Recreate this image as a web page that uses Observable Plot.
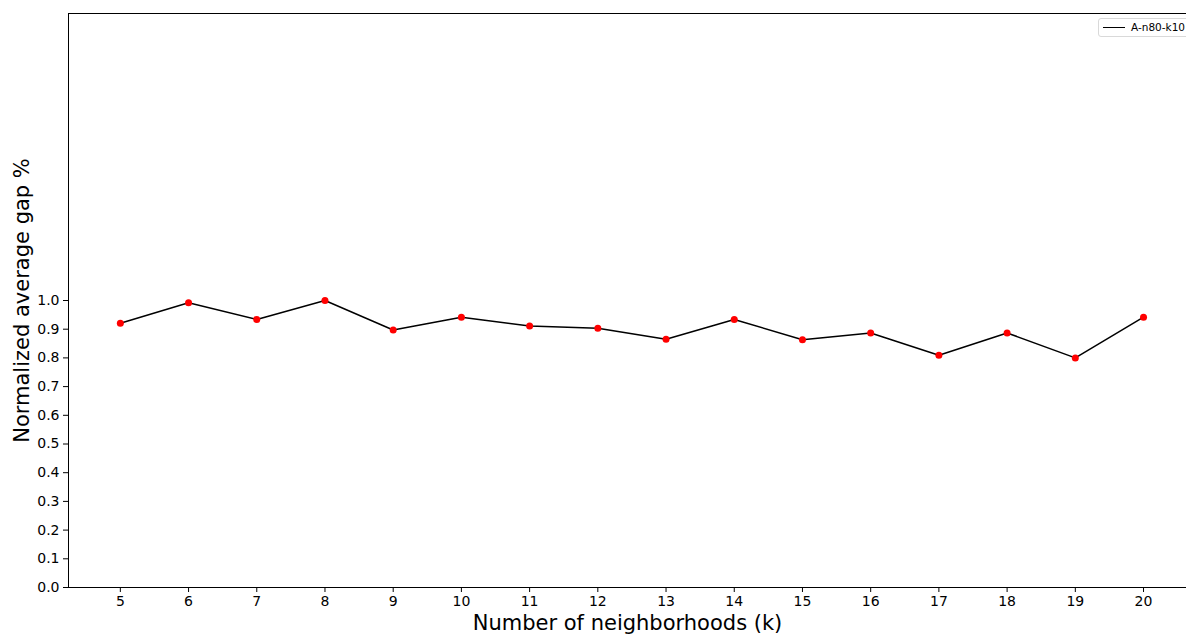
<!DOCTYPE html>
<html>
<head>
<meta charset="utf-8">
<script src="https://cdn.jsdelivr.net/npm/d3@7"></script>
<script src="https://cdn.jsdelivr.net/npm/@observablehq/plot@0.6"></script>
<style>
  html, body { margin: 0; padding: 0; background: #fff; }
  #wrap { position: relative; width: 1186px; height: 635px; font-family: "DejaVu Sans", sans-serif; }
  #legend { position: absolute; left: 1098px; top: 18px; width: 92px; height: 19px; border: 1px solid #d9d9d9; border-radius: 3px; background: #fff; box-sizing: border-box; font-size: 10.5px; color: #000; }
  #legend .sw { position: absolute; left: 4px; top: 8px; width: 22px; height: 0; border-top: 1.5px solid #000; }
  #legend .lb { position: absolute; left: 32px; top: 2px; white-space: nowrap; }
</style>
</head>
<body>
<div id="wrap"></div>
<script>
const ks = [5, 6, 7, 8, 9, 10, 11, 12, 13, 14, 15, 16, 17, 18, 19, 20];
const gaps = [0.921, 0.992, 0.934, 1.0, 0.897, 0.942, 0.911, 0.903, 0.865, 0.934, 0.863, 0.887, 0.809, 0.887, 0.800, 0.942];
const yTicks = [0.0, 0.1, 0.2, 0.3, 0.4, 0.5, 0.6, 0.7, 0.8, 0.9, 1.0];
const seriesName = "A-n80-k10";
const xLabel = "Number of neighborhoods (k)";
const yLabel = "Normalized average gap %";

const data = ks.map((k, i) => ({k, gap: gaps[i]}));

const chart = Plot.plot({
  width: 1186,
  height: 635,
  marginLeft: 68,
  marginRight: 0,
  marginTop: 13,
  marginBottom: 48,
  style: {fontFamily: "DejaVu Sans, sans-serif", fontSize: "14px", color: "#000", background: "#fff"},
  x: {domain: [4.24, 20.63]},
  y: {domain: [0, 2.0]},
  marks: [
    Plot.axisX({ticks: ks, tickSize: 5, tickPadding: 4, tickFormat: d => String(d), label: null, fontSize: 14}),
    Plot.axisY({ticks: yTicks, tickSize: 5, tickPadding: 4, tickFormat: d => d.toFixed(1), label: null, fontSize: 14}),
    Plot.ruleY([0], {stroke: "#000", strokeWidth: 1}),
    Plot.ruleY([2.0], {stroke: "#000", strokeWidth: 1}),
    Plot.ruleX([4.24], {stroke: "#000", strokeWidth: 1}),
    Plot.line(data, {x: "k", y: "gap", stroke: "#000", strokeWidth: 1.5}),
    Plot.dot(data, {x: "k", y: "gap", r: 3.5, fill: "red", stroke: "none"}),
    Plot.text([xLabel], {frameAnchor: "bottom", dy: 36, fontSize: 21, fill: "#000", textAnchor: "middle", lineAnchor: "middle"}),
    Plot.text([yLabel], {frameAnchor: "left", dx: -46, rotate: -90, fontSize: 21, fill: "#000", textAnchor: "middle", lineAnchor: "middle"})
  ]
});

const wrap = document.getElementById("wrap");
wrap.appendChild(chart);
const lg = document.createElement("div");
lg.id = "legend";
lg.innerHTML = '<div class="sw"></div><div class="lb"></div>';
lg.querySelector(".lb").textContent = seriesName;
wrap.appendChild(lg);
</script>
</body>
</html>
